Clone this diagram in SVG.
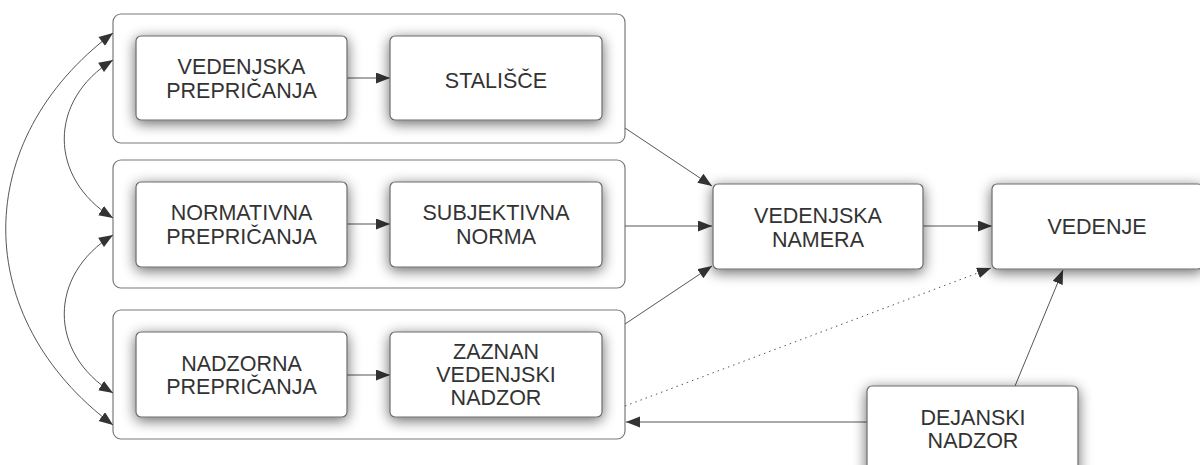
<svg xmlns="http://www.w3.org/2000/svg" width="1200" height="465" viewBox="0 0 1200 465">
  <style>
    .grp { fill: #ffffff; stroke: #7a7a7a; stroke-width: 1.2; }
    .box { fill: #ffffff; stroke: #6a6a6a; stroke-width: 1.2; filter: url(#shadow); }
    .lbl { font-family: "Liberation Sans", Arial, sans-serif; font-size: 21.5px; fill: #333333; text-anchor: middle; }
    .edge { fill: none; stroke: #555555; stroke-width: 1; marker-end: url(#arrow); }
    .curve { fill: none; stroke: #555555; stroke-width: 1; marker-start: url(#arrowStart); marker-end: url(#arrow); }
    .dotted { stroke-dasharray: 1.5 4; }
  </style>
  <defs>
    <filter id="shadow" x="-20%" y="-30%" width="140%" height="160%">
      <feGaussianBlur in="SourceAlpha" stdDeviation="7"/>
      <feOffset dx="0" dy="3" result="blur"/>
      <feComponentTransfer><feFuncA type="linear" slope="0.6"/></feComponentTransfer>
      <feMerge><feMergeNode/><feMergeNode in="SourceGraphic"/></feMerge>
    </filter>
    <marker id="arrow" markerUnits="userSpaceOnUse" markerWidth="15" markerHeight="12" refX="14" refY="5.5" orient="auto">
      <path d="M0,0 L14,5.5 L0,11 z" fill="#333333"/>
    </marker>
    <marker id="arrowStart" markerUnits="userSpaceOnUse" markerWidth="15" markerHeight="12" refX="0" refY="5.5" orient="auto">
      <path d="M14,0 L0,5.5 L14,11 z" fill="#333333"/>
    </marker>
  </defs>

  <rect width="1200" height="465" fill="#ffffff"/>

  <!-- group frames -->
  <g id="group-attitude"><rect class="grp" x="113" y="14" width="512" height="129" rx="8"/></g>
  <g id="group-norm"><rect class="grp" x="113" y="160" width="512" height="128" rx="8"/></g>
  <g id="group-control"><rect class="grp" x="113" y="310" width="512" height="129" rx="8"/></g>

  <!-- connectors -->
  <g id="connectors">
    <line class="edge" x1="347" y1="78" x2="390" y2="78"/>
    <line class="edge" x1="347" y1="224" x2="390" y2="224"/>
    <line class="edge" x1="347" y1="375" x2="390" y2="375"/>
    <line class="edge" x1="625" y1="128" x2="712" y2="186"/>
    <line class="edge" x1="625" y1="226" x2="712" y2="226"/>
    <line class="edge" x1="625" y1="324" x2="712" y2="266"/>
    <line class="edge" x1="923" y1="226" x2="992" y2="226"/>
    <line class="edge dotted" x1="625" y1="406" x2="991" y2="268"/>
    <line class="edge" x1="1015" y1="386" x2="1063" y2="270"/>
    <line class="edge" x1="867" y1="422" x2="626" y2="422"/>
    <path class="curve" d="M113,33 C-30,140 -30,318 113,425"/>
    <path class="curve" d="M113,60 C48,100 48,178 113,218"/>
    <path class="curve" d="M113,235 C48,275 48,353 113,393"/>
  </g>

  <g id="node-behavioral-beliefs">
    <rect class="box" x="136" y="36" width="211" height="84" rx="5"/>
    <text class="lbl" x="241.5" y="74">VEDENJSKA</text>
    <text class="lbl" x="241.5" y="98">PREPRIČANJA</text>
  </g>
  <g id="node-attitude">
    <rect class="box" x="390" y="36" width="212" height="84" rx="5"/>
    <text class="lbl" x="496" y="88">STALIŠČE</text>
  </g>
  <g id="node-normative-beliefs">
    <rect class="box" x="136" y="182" width="211" height="85" rx="5"/>
    <text class="lbl" x="241.5" y="220">NORMATIVNA</text>
    <text class="lbl" x="241.5" y="244">PREPRIČANJA</text>
  </g>
  <g id="node-subjective-norm">
    <rect class="box" x="390" y="182" width="212" height="85" rx="5"/>
    <text class="lbl" x="496" y="220">SUBJEKTIVNA</text>
    <text class="lbl" x="496" y="244">NORMA</text>
  </g>
  <g id="node-control-beliefs">
    <rect class="box" x="136" y="332" width="211" height="85" rx="5"/>
    <text class="lbl" x="241.5" y="371">NADZORNA</text>
    <text class="lbl" x="241.5" y="394">PREPRIČANJA</text>
  </g>
  <g id="node-perceived-control">
    <rect class="box" x="390" y="332" width="212" height="85" rx="5"/>
    <text class="lbl" x="496" y="359">ZAZNAN</text>
    <text class="lbl" x="496" y="382">VEDENJSKI</text>
    <text class="lbl" x="496" y="405">NADZOR</text>
  </g>
  <g id="node-intention">
    <rect class="box" x="713" y="184" width="210" height="85" rx="5"/>
    <text class="lbl" x="818" y="223">VEDENJSKA</text>
    <text class="lbl" x="818" y="247">NAMERA</text>
  </g>
  <g id="node-behavior">
    <rect class="box" x="992" y="184" width="211" height="85" rx="5"/>
    <text class="lbl" x="1097" y="234">VEDENJE</text>
  </g>
  <g id="node-actual-control">
    <rect class="box" x="867" y="386" width="211" height="100" rx="5"/>
    <text class="lbl" x="973" y="425">DEJANSKI</text>
    <text class="lbl" x="973" y="448">NADZOR</text>
  </g>
</svg>
